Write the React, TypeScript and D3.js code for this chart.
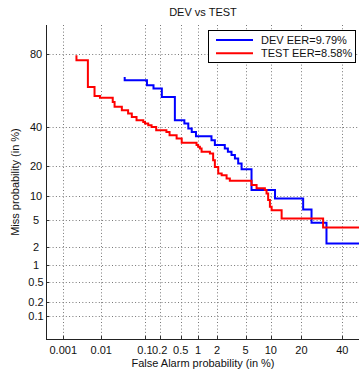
import * as d3 from "d3";
import { useRef, useEffect } from "react";

// tick labels (in %)
const faTicks = [0.001, 0.01, 0.1, 0.2, 0.5, 1, 2, 5, 10, 20, 40];
const missTicks = [0.1, 0.2, 0.5, 1, 2, 5, 10, 20, 40, 80];

// DEV curve (false alarm %, miss %)
const devFA = [0.036, 0.036, 0.11, 0.15, 0.22, 0.39, 0.58, 0.68, 0.78, 0.92, 1.64, 1.85, 2.6, 2.88, 3.24, 3.61, 4.0, 4.44, 5.95, 11.1, 20.7, 24.3, 31.5, 50];
const devMiss = [69.2, 67.4, 64.7, 62.8, 58.0, 44.1, 42.2, 39.3, 37.3, 34.9, 32.7, 30.1, 28.4, 26.7, 25.1, 23.5, 21.3, 18.8, 11.6, 9.3, 6.85, 4.57, 2.29, 2.29];

// TEST curve (false alarm %, miss %)
const testFA = [0.0023, 0.0023, 0.0046, 0.0068, 0.0093, 0.019, 0.021, 0.031, 0.043, 0.052, 0.066, 0.092, 0.1, 0.117, 0.137, 0.17, 0.27, 0.31, 0.42, 0.52, 0.94, 1.0, 1.07, 1.14, 1.55, 1.74, 1.85, 2.08, 2.34, 2.76, 3.07, 5.95, 6.86, 8.58, 8.96, 9.34, 9.77, 10.2, 13.0, 29.8, 50];
const testMiss = [79.6, 77.4, 63.7, 58.6, 57.5, 55.0, 52.1, 50.1, 48.1, 46.1, 44.1, 43.1, 42.2, 41.2, 40.2, 38.3, 37.3, 35.5, 33.6, 31.3, 30.1, 29.2, 28.4, 26.7, 25.9, 22.7, 19.8, 17.2, 16.5, 15.3, 14.5, 13.1, 12.1, 11.6, 10.6, 8.9, 7.4, 6.7, 5.24, 3.95, 3.95];

const seriesNames = ["DEV EER=9.79%", "TEST EER=8.58%"];
const seriesColors = ["#0000ff", "#ff0000"];

// axis limits (in %)
const faLimits = [0.00032, 50];
const missLimits = [0.03, 90];

// inverse of the standard normal cdf (Acklam's approximation)
function probit(p: number): number {
    const a = [-39.69683028665376, 220.9460984245205, -275.9285104469687, 138.357751867269, -30.66479806614716, 2.506628274631];
    const b = [-54.47609879822406, 161.5858368580409, -155.6989798598866, 66.80131188771972, -13.28068155288572];
    const c = [-0.007784894002430293, -0.3223964580411365, -2.400758277161838, -2.549732539343734, 4.374664141464968, 2.938163982698783];
    const d = [0.007784695709041462, 0.3224671290700398, 2.445134137142996, 3.754408661907416];
    const pl = 0.02425;
    if (p < pl) {
        const q = Math.sqrt(-2 * Math.log(p));
        return (((((c[0] * q + c[1]) * q + c[2]) * q + c[3]) * q + c[4]) * q + c[5]) / ((((d[0] * q + d[1]) * q + d[2]) * q + d[3]) * q + 1);
    }
    if (p > 1 - pl) {
        const q = Math.sqrt(-2 * Math.log(1 - p));
        return -(((((c[0] * q + c[1]) * q + c[2]) * q + c[3]) * q + c[4]) * q + c[5]) / ((((d[0] * q + d[1]) * q + d[2]) * q + d[3]) * q + 1);
    }
    const q = p - 0.5;
    const r = q * q;
    return (((((a[0] * r + a[1]) * r + a[2]) * r + a[3]) * r + a[4]) * r + a[5]) * q / (((((b[0] * r + b[1]) * r + b[2]) * r + b[3]) * r + b[4]) * r + 1);
}

export default function App() {
    const svgRef = useRef<SVGSVGElement>(null);

    useEffect(() => {
        const svg = d3.select(svgRef.current);
        svg.selectAll("*").remove();

        const width = 359, height = 374;
        const left = 46, right = 360, top = 25, bottom = 339;
        const font = "'Liberation Sans', Arial, sans-serif";

        // probit scales, values given in %
        const xs = d3.scaleLinear().domain([probit(faLimits[0] / 100), probit(faLimits[1] / 100)]).range([left, right]);
        const ys = d3.scaleLinear().domain([probit(missLimits[0] / 100), probit(missLimits[1] / 100)]).range([bottom, top]);
        const x = (v: number) => xs(probit(v / 100));
        const y = (v: number) => ys(probit(v / 100));

        svg.append("rect").attr("width", width).attr("height", height).attr("fill", "white");

        // dotted grid
        const grid = svg.append("g").attr("stroke", "#777").attr("stroke-width", 1).attr("stroke-dasharray", "1,2.3");
        grid.selectAll("line.v").data(faTicks).enter().append("line")
            .attr("x1", d => Math.round(x(d)) + 0.5).attr("x2", d => Math.round(x(d)) + 0.5)
            .attr("y1", top).attr("y2", bottom);
        grid.selectAll("line.h").data(missTicks).enter().append("line")
            .attr("y1", d => Math.round(y(d)) + 0.5).attr("y2", d => Math.round(y(d)) + 0.5)
            .attr("x1", left).attr("x2", right);

        // small inner tick marks
        const ticks = svg.append("g").attr("stroke", "#333").attr("stroke-width", 1);
        ticks.selectAll("line.xt").data(faTicks).enter().append("line")
            .attr("x1", d => Math.round(x(d)) + 0.5).attr("x2", d => Math.round(x(d)) + 0.5)
            .attr("y1", bottom).attr("y2", bottom - 3);
        ticks.selectAll("line.yt").data(missTicks).enter().append("line")
            .attr("y1", d => Math.round(y(d)) + 0.5).attr("y2", d => Math.round(y(d)) + 0.5)
            .attr("x1", left).attr("x2", left + 3);

        // axis lines
        svg.append("line").attr("x1", left + 0.5).attr("x2", left + 0.5).attr("y1", top).attr("y2", bottom + 0.5).attr("stroke", "#222");
        svg.append("line").attr("x1", left).attr("x2", right).attr("y1", bottom + 0.5).attr("y2", bottom + 0.5).attr("stroke", "#222");

        // tick labels
        svg.append("g").selectAll("text").data(faTicks).enter().append("text")
            .attr("x", d => x(d)).attr("y", 354).attr("text-anchor", "middle")
            .style("font-family", font).style("font-size", "11px").attr("fill", "#111")
            .text(d => String(d));
        svg.append("g").selectAll("text").data(missTicks).enter().append("text")
            .attr("x", 36).attr("y", d => y(d) + 4).attr("text-anchor", "middle")
            .style("font-family", font).style("font-size", "11px").attr("fill", "#111")
            .text(d => String(d));

        // curves
        const clip = svg.append("clipPath").attr("id", "plot-clip");
        clip.append("rect").attr("x", left).attr("y", top).attr("width", right - left).attr("height", bottom - top);
        const line = d3.line<[number, number]>().x(d => x(d[0])).y(d => y(d[1])).curve(d3.curveStepAfter);
        const series: [number, number][][] = [
            devFA.map((v, i) => [v, devMiss[i]]),
            testFA.map((v, i) => [v, testMiss[i]]),
        ];
        svg.append("g").attr("clip-path", "url(#plot-clip)").selectAll("path").data(series).enter().append("path")
            .attr("d", d => line(d))
            .attr("fill", "none")
            .attr("stroke", (d, i) => seriesColors[i])
            .attr("stroke-width", 2);

        // legend
        const lg = svg.append("g");
        lg.append("rect").attr("x", 208.5).attr("y", 30.5).attr("width", 147).attr("height", 32)
            .attr("fill", "white").attr("stroke", "black").attr("stroke-width", 1);
        seriesNames.forEach((name, i) => {
            const ly = 40 + i * 13.3;
            lg.append("line").attr("x1", 216).attr("x2", 253).attr("y1", ly).attr("y2", ly)
                .attr("stroke", seriesColors[i]).attr("stroke-width", 2);
            lg.append("text").attr("x", 261).attr("y", ly + 4).style("font-family", font).style("font-size", "11px")
                .attr("fill", "#111").text(name);
        });

        // title and axis labels
        svg.append("text").attr("x", (left + right) / 2).attr("y", 16).attr("text-anchor", "middle")
            .style("font-family", font).style("font-size", "11px").attr("fill", "#111").text("DEV vs TEST");
        svg.append("text").attr("x", (left + right) / 2).attr("y", 367).attr("text-anchor", "middle")
            .style("font-family", font).style("font-size", "11px").attr("fill", "#111").text("False Alarm probability (in %)");
        svg.append("text").attr("transform", `translate(19,${(top + bottom) / 2}) rotate(-90)`).attr("text-anchor", "middle")
            .style("font-family", font).style("font-size", "11px").attr("fill", "#111").text("Miss probability (in %)");
    }, []);

    return (
        <svg ref={svgRef} width={359} height={374} style={{ position: "absolute", left: 0, top: 0 }} />
    );
}
